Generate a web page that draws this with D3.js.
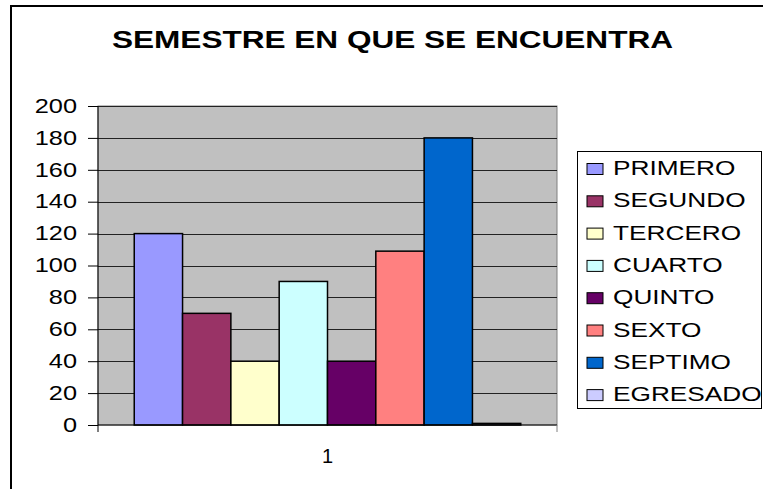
<!DOCTYPE html>
<html>
<head>
<meta charset="utf-8">
<script src="https://cdn.jsdelivr.net/npm/d3@7"></script>
<style>
  body { margin: 0; background: #fff; }
  text { font-family: Arial, "Liberation Sans", sans-serif; }
</style>
</head>
<body>
<script>
(function(){

//chart data
var categories = ["1"];
var seriesNames = ["PRIMERO", "SEGUNDO", "TERCERO", "CUARTO", "QUINTO", "SEXTO", "SEPTIMO", "EGRESADO"];
var seriesValues = [120, 70, 40, 90, 40, 109, 180, 1];
var seriesColors = ["#9999FF", "#993366", "#FFFFCC", "#CCFFFF", "#660066", "#FF8080", "#0066CC", "#CCCCFF"];
var yTicks = [0, 20, 40, 60, 80, 100, 120, 140, 160, 180, 200];
var titleText = "SEMESTRE EN QUE SE ENCUENTRA";

window.onload = drawChart();

function drawChart(){

    var width = 763,
        height = 489;

    //plot area bounds
    var plot = {left: 98, right: 557, top: 106, bottom: 425};

    var svg = d3.select("body")
        .append("svg")
        .attr("width", width)
        .attr("height", height);

    //outer chart border (runs off the picture on right and bottom)
    svg.append("rect")
        .attr("x", 11)
        .attr("y", 6)
        .attr("width", 800)
        .attr("height", 600)
        .attr("fill", "#fff")
        .attr("stroke", "#000")
        .attr("stroke-width", 2);

    //title, stretched wide like the original
    svg.append("text")
        .attr("x", 112)
        .attr("y", 48)
        .attr("font-size", 24.5)
        .attr("font-weight", "bold")
        .attr("textLength", 561)
        .attr("lengthAdjust", "spacingAndGlyphs")
        .text(titleText);

    //scales
    var y = d3.scaleLinear()
        .domain([0, 200])
        .range([plot.bottom, plot.top]);

    var gapWidth = 1.5; //excel gap width 150%
    var x0 = d3.scaleBand()
        .domain(categories)
        .range([plot.left, plot.right])
        .paddingInner(0)
        .paddingOuter(gapWidth / 2 / seriesNames.length);

    var x1 = d3.scaleBand()
        .domain(seriesNames)
        .range([0, x0.bandwidth()])
        .padding(0);

    //plot background
    svg.append("rect")
        .attr("x", plot.left)
        .attr("y", plot.top)
        .attr("width", plot.right - plot.left)
        .attr("height", plot.bottom - plot.top)
        .attr("fill", "#C0C0C0")
        .attr("stroke", "#808080")
        .attr("stroke-width", 1);

    //gridlines
    svg.append("g")
        .selectAll("line")
        .data(yTicks.filter(function(d){ return d > 0; }))
        .enter()
        .append("line")
        .attr("x1", plot.left)
        .attr("x2", plot.right)
        .attr("y1", function(d){ return Math.round(y(d)) + 0.5; })
        .attr("y2", function(d){ return Math.round(y(d)) + 0.5; })
        .attr("stroke", "#222")
        .attr("stroke-width", 1);

    //bars
    var groups = svg.append("g")
        .selectAll("g")
        .data(categories)
        .enter()
        .append("g")
        .attr("transform", function(d){ return "translate(" + x0(d) + ",0)"; });

    groups.selectAll("rect")
        .data(function(){
            return seriesNames.map(function(name, i){
                return {name: name, value: seriesValues[i], color: seriesColors[i]};
            });
        })
        .enter()
        .append("rect")
        .attr("x", function(d){ return x1(d.name); })
        .attr("y", function(d){ return y(d.value); })
        .attr("width", x1.bandwidth())
        .attr("height", function(d){ return y(0) - y(d.value); })
        .attr("fill", function(d){ return d.color; })
        .attr("stroke", "#000")
        .attr("stroke-width", 1.5);

    //y axis
    var yAxis = d3.axisLeft(y)
        .tickValues(yTicks)
        .tickSize(10)
        .tickPadding(11)
        .tickFormat(d3.format("d"));

    var yg = svg.append("g")
        .attr("transform", "translate(" + plot.left + ",0)")
        .call(yAxis);
    yg.select(".domain").remove();
    yg.append("line")
        .attr("x1", 0).attr("x2", 0)
        .attr("y1", plot.top).attr("y2", plot.bottom + 7)
        .attr("stroke", "#000");
    yg.selectAll(".tick line").attr("stroke", "#000");
    yg.selectAll(".tick text")
        .attr("font-size", 19.5)
        .attr("font-family", "Arial, 'Liberation Sans', sans-serif")
        .attr("fill", "#000")
        .attr("transform", "scale(1.3,1)")
        .attr("x", -21 / 1.3);

    //x axis
    var xAxis = d3.axisBottom(x0)
        .tickSize(0)
        .tickPadding(24);

    var xg = svg.append("g")
        .attr("transform", "translate(0," + plot.bottom + ")")
        .call(xAxis);
    xg.select(".domain").remove();
    xg.append("line")
        .attr("x1", plot.left).attr("x2", plot.right)
        .attr("y1", 0).attr("y2", 0)
        .attr("stroke", "#000");
    xg.append("line")
        .attr("x1", plot.right).attr("x2", plot.right)
        .attr("y1", 0).attr("y2", 7)
        .attr("stroke", "#808080");
    xg.selectAll(".tick text")
        .attr("font-size", 20)
        .attr("font-family", "Arial, 'Liberation Sans', sans-serif")
        .attr("fill", "#000");

    //legend
    var legend = svg.append("g");
    legend.append("rect")
        .attr("x", 577.5)
        .attr("y", 151.5)
        .attr("width", 184)
        .attr("height", 257)
        .attr("fill", "#fff")
        .attr("stroke", "#000")
        .attr("stroke-width", 1);

    var rowStep = 32.3;
    var items = legend.selectAll(".item")
        .data(seriesNames)
        .enter()
        .append("g")
        .attr("class", "item")
        .attr("transform", function(d, i){ return "translate(0," + (175 + i * rowStep) + ")"; });

    items.append("rect")
        .attr("x", 587)
        .attr("y", -11.5)
        .attr("width", 16)
        .attr("height", 11)
        .attr("fill", function(d, i){ return seriesColors[i]; })
        .attr("stroke", "#000")
        .attr("stroke-width", 1);

    items.append("text")
        .attr("x", 613 / 1.28)
        .attr("y", 0)
        .attr("font-size", 20.5)
        .attr("transform", "scale(1.28,1)")
        .text(function(d){ return d; });
};
})();
</script>
</body>
</html>
